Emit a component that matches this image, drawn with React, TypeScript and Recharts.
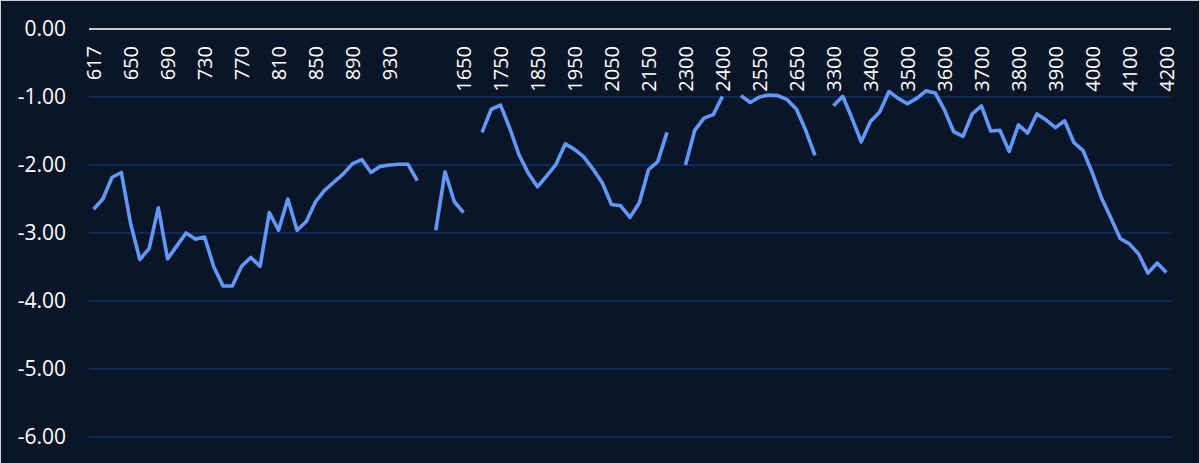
import React from "react";
import { LineChart, Line, XAxis, YAxis, CartesianGrid } from "recharts";

const categories: string[] = [
  "617", "625", "633", "641", "650", "660", "670", "680", "690", "700",
  "710", "720", "730", "740", "750", "760", "770", "780", "790", "800",
  "810", "820", "830", "840", "850", "860", "870", "880", "890", "900",
  "910", "920", "930", "940", "950", "960", "", "1575", "1600", "1625",
  "1650", "1675", "1700", "1725", "1750", "1775", "1800", "1825", "1850", "1875",
  "1900", "1925", "1950", "1975", "2000", "2025", "2050", "2075", "2100", "2125",
  "2150", "2175", "2200", "2250", "2300", "2325", "2350", "2375", "2400", "2425",
  "2450", "2500", "2550", "2575", "2600", "2625", "2650", "2675", "2700", "3275",
  "3300", "3325", "3350", "3375", "3400", "3425", "3450", "3475", "3500", "3525",
  "3550", "3575", "3600", "3625", "3650", "3675", "3700", "3725", "3750", "3775",
  "3800", "3825", "3850", "3875", "3900", "3925", "3950", "3975", "4000", "4025",
  "4050", "4075", "4100", "4125", "4150", "4175", "4200",
];

const values: (number | null)[] = [
  -2.65, -2.5, -2.18, -2.11, -2.86, -3.39, -3.23, -2.63, -3.38, -3.19,
  -3.0, -3.09, -3.06, -3.5, -3.78, -3.78, -3.49, -3.36, -3.49, -2.7,
  -2.96, -2.5, -2.96, -2.83, -2.54, -2.37, -2.25, -2.13, -1.98, -1.92,
  -2.11, -2.02, -2.0, -1.99, -1.99, -2.23, null, -2.96, -2.1, -2.54,
  -2.7, null, -1.52, -1.18, -1.12, -1.46, -1.85, -2.12, -2.32, -2.16,
  -1.99, -1.69, -1.77, -1.88, -2.06, -2.26, -2.58, -2.6, -2.77, -2.56,
  -2.07, -1.95, -1.52, null, -2.0, -1.49, -1.31, -1.26, -0.99, null,
  -0.98, -1.08, -1.0, -0.97, -0.98, -1.04, -1.18, -1.49, -1.86, null,
  -1.13, -0.99, -1.31, -1.66, -1.36, -1.22, -0.92, -1.02, -1.1, -1.02,
  -0.91, -0.94, -1.19, -1.51, -1.58, -1.25, -1.13, -1.5, -1.49, -1.8,
  -1.41, -1.53, -1.25, -1.34, -1.45, -1.35, -1.67, -1.79, -2.12, -2.49,
  -2.78, -3.08, -3.16, -3.31, -3.59, -3.44, -3.58,
];

const yTicks: number[] = [0, -1, -2, -3, -4, -5, -6];

const data = categories.map((c, i) => ({ cat: c, value: values[i] }));

const FONT = "'Open Sans', sans-serif";
const LABEL_TOP = 45;

const XTick = (props: any) => {
  const { x, payload } = props;
  return (
    <g transform={`translate(${x},${LABEL_TOP}) rotate(-90)`}>
      <text
        x={0}
        y={0}
        dy="0.36em"
        textAnchor="end"
        fill="#ffffff"
        fontSize={20}
        fontFamily={FONT}
      >
        {payload.value}
      </text>
    </g>
  );
};

export default function App() {
  return (
    <div
      style={{
        position: "absolute",
        left: 0,
        top: 0,
        width: 1200,
        height: 464,
        boxSizing: "border-box",
        border: "1px solid #d0d0d0",
        background: "#0a1628",
      }}
    >
      <LineChart
        width={1198}
        height={462}
        data={data}
        margin={{ top: 0, right: 28, left: 0, bottom: 26 }}
      >
        <CartesianGrid
          horizontal={true}
          vertical={false}
          stroke="#0b2a62"
          strokeWidth={2}
        />
        <XAxis
          dataKey="cat"
          orientation="top"
          height={28}
          interval={3}
          padding={{ left: 4.6, right: 4.6 }}
          axisLine={{ stroke: "#c8c8c8", strokeWidth: 2 }}
          tickLine={false}
          tick={<XTick />}
        />
        <YAxis
          type="number"
          domain={[-6, 0]}
          ticks={yTicks}
          width={88}
          axisLine={false}
          tickLine={false}
          tickSize={0}
          tickMargin={23}
          tickFormatter={(v: number) => v.toFixed(2)}
          tick={{ fill: "#ffffff", fontSize: 21, fontFamily: FONT }}
        />
        <Line
          dataKey="value"
          stroke="#6398fb"
          strokeWidth={3.6}
          dot={false}
          isAnimationActive={false}
          connectNulls={false}
          strokeLinejoin="round"
        />
      </LineChart>
    </div>
  );
}
